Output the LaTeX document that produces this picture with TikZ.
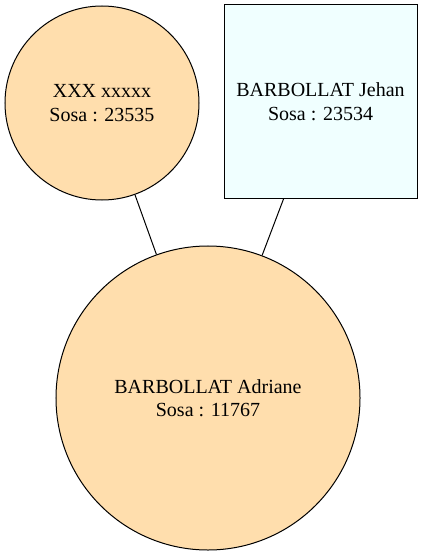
\documentclass[tikz,border=0pt]{standalone}
\usepackage{fontspec}
\setmainfont{Liberation Serif}
\definecolor{navajo}{HTML}{FFDEAD}
\definecolor{azurec}{HTML}{F0FFFF}
\begin{document}
\begin{tikzpicture}[x=1bp,y=-1bp,
  person/.style={draw=black, line width=1bp, inner sep=0pt, align=center,
    font=\fontsize{20bp}{23.5bp}\selectfont},
  circ/.style={person, circle, fill=navajo},
  sq/.style={person, rectangle, fill=azurec},
  link/.style={draw=black, line width=1bp}]
\useasboundingbox (0,0) rectangle (424,555);
\node[circ, minimum size=194bp] (mother) at (102,103) {XXX xxxxx\\Sosa : 23535};
\node[sq, minimum size=193bp] (father) at (320.5,101.5) {BARBOLLAT Jehan\\Sosa : 23534};
\node[circ, minimum size=304bp] (child) at (208,398) {BARBOLLAT Adriane\\Sosa : 11767};
\draw[link] (mother) -- (child);
\draw[link] (father) -- (child);
\end{tikzpicture}
\end{document}
